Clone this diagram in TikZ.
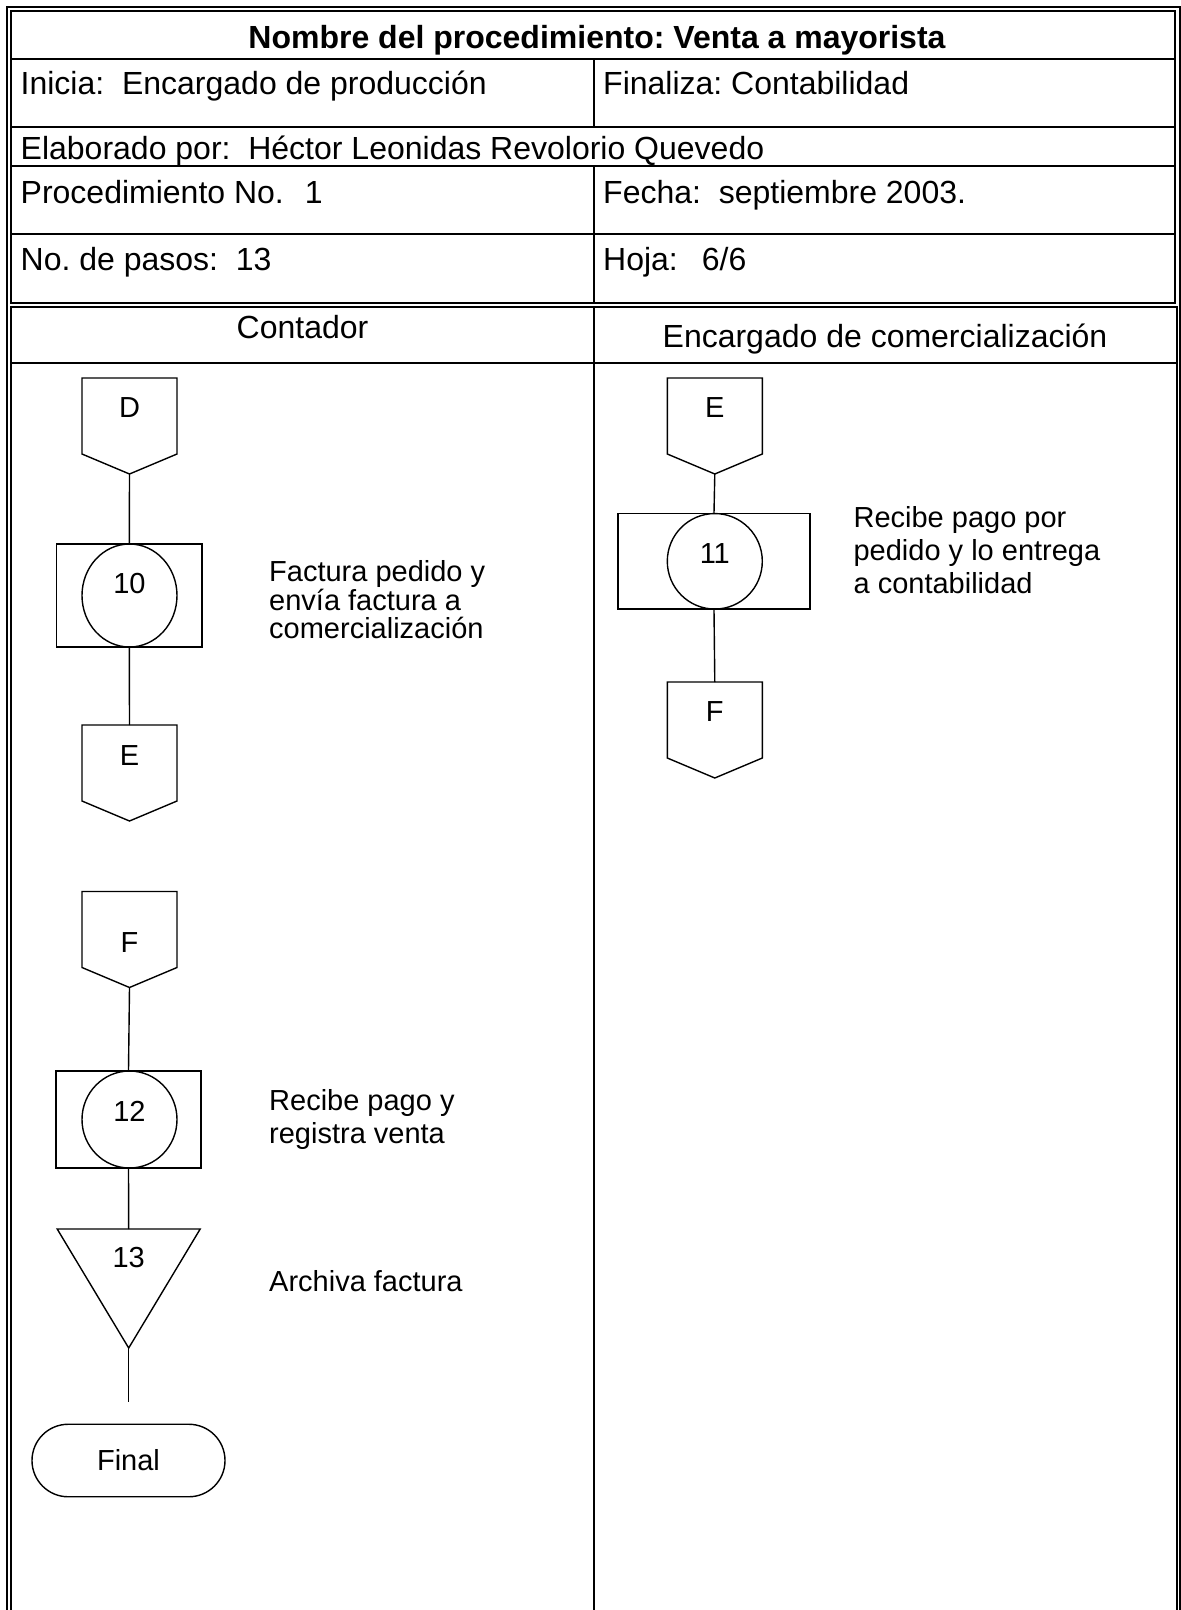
\documentclass[tikz,border=0pt]{standalone}
\usepackage{fontspec}
\setmainfont{Liberation Sans}
\usetikzlibrary{shapes.geometric}
% text block whose baseline is that of its first line
\newcommand\desctext[2]{\parbox[t]{330pt}{\fontsize{29}{#1}\selectfont #2}}
\begin{document}
\begin{tikzpicture}[x=1pt,y=-1pt,
  rule/.style={line width=2pt},
  flow/.style={line width=1.4pt},
  celltext/.style={anchor=base west,inner sep=0pt,font=\fontsize{32}{38}\selectfont},
  headtext/.style={anchor=base,inner sep=0pt,font=\fontsize{32}{38}\selectfont},
  desc/.style={anchor=base west,inner sep=0pt},
  tag/.style={anchor=base,inner sep=0pt,font=\fontsize{29}{33}\selectfont},
  opbox/.style={draw,flow,rectangle,inner sep=0pt},
  opcircle/.style={draw,flow,ellipse,inner sep=0pt,minimum width=95pt,minimum height=#1},
  terminal/.style={draw,flow,rectangle,inner sep=0pt,minimum width=193pt,
    minimum height=72.5pt,rounded corners=36.2pt,font=\fontsize{29}{33}\selectfont},
  offpage/.pic={
    \draw[flow] (-47.5,0) -- (47.5,0) -- (47.5,76) -- (0,96) -- (-47.5,76) -- cycle;
    \coordinate (-top) at (0,0);
    \coordinate (-tip) at (0,96);
  },
  archive/.pic={
    \draw[flow] (-71.5,0) -- (71.5,0) -- (0,119) -- cycle;
    \coordinate (-top) at (0,0);
    \coordinate (-tip) at (0,119);
  }
]
\useasboundingbox (0,0) rectangle (1181,1610);

% ---------- outer frame ----------
\draw[rule] (6.5,1620) -- (6.5,6.5) -- (1179.5,6.5) -- (1179.5,1620);

% ---------- header table ----------
\draw[rule] (11,11) rectangle (1175,303);
\draw[rule] (11,58.5) -- (1175,58.5);
\draw[rule] (11,127) -- (1175,127);
\draw[rule] (11,166) -- (1175,166);
\draw[rule] (11,234) -- (1175,234);
\draw[rule] (594,58.5) -- (594,127);
\draw[rule] (594,166) -- (594,303);

\node[headtext,font=\fontsize{32}{38}\selectfont\bfseries] (title) at (597,48)
  {Nombre del procedimiento:\ Venta a mayorista};
\node[celltext] (inicia) at (20.5,94) {Inicia:\ \ Encargado de producción};
\node[celltext] (finaliza) at (603,94) {Finaliza:\ Contabilidad};
\node[celltext] (elab) at (20.5,159) {Elaborado por:\ \ Héctor Leonidas Revolorio Quevedo};
\node[celltext] (proc) at (20.5,203) {Procedimiento No.\hspace{21pt}1};
\node[celltext] (fecha) at (603,203) {Fecha:\ \ septiembre 2003.};
\node[celltext] (pasos) at (20.5,270) {No.\ de pasos:\ \ 13};
\node[celltext] (hoja) at (603,270) {Hoja:\hspace{24pt}6/6};

% ---------- swim lanes ----------
\draw[rule] (11,1620) -- (11,307) -- (1176.5,307) -- (1176.5,1620);
\draw[rule] (11,362.5) -- (1176.5,362.5);
\draw[rule] (594,307) -- (594,1620);

\node[headtext] (lane1) at (302.5,338) {Contador};
\node[headtext] (lane2) at (885,347) {Encargado de comercialización};

% ---------- lane 1: Contador ----------
\pic (D) at (129.5,378) {offpage};
\node[tag] (Dl) at (129.5,417) {D};

\node[opbox,minimum width=145.5pt,minimum height=103pt] (b10) at (129.3,595.5) {};
\node[opcircle=103pt] (c10) at (129.5,595.5) {};
\node[tag] (n10) at (129.5,593.5) {10};
\node[desc] (d10) at (269,581.5)
  {\desctext{28.5}{Factura pedido y\\envía factura a\\comercialización}};

\pic (E1) at (129.5,725) {offpage};
\node[tag] (E1l) at (129.5,765) {E};

\pic (F1) at (129.5,891.5) {offpage};
\node[tag] (F1l) at (129.5,952) {F};

\node[opbox,minimum width=145pt,minimum height=97pt] (b12) at (128.5,1119.5) {};
\node[opcircle=97pt] (c12) at (129.5,1119.5) {};
\node[tag] (n12) at (129.5,1121.5) {12};
\node[desc] (d12) at (269,1110)
  {\desctext{33.2}{Recibe pago y\\registra venta}};

\pic (T13) at (128.7,1229) {archive};
\node[tag] (n13) at (128.7,1267) {13};
\node[desc] (d13) at (269,1291) {\desctext{33.2}{Archiva factura}};

\coordinate (open) at (128.7,1402);
\node[terminal] (fin) at (128.5,1460.5) {Final};

\draw[flow] (D-tip) -- (b10.north);
\draw[flow] (b10.south) -- (E1-top);
\draw[flow] (F1-tip) -- (b12.north);
\draw[flow] (b12.south) -- (T13-top);
\draw[flow] (T13-tip) -- (open);

% ---------- lane 2: Encargado de comercializacion ----------
\pic (E2) at (714.8,378) {offpage};
\node[tag] (E2l) at (714.8,417) {E};

\node[opbox,minimum width=192pt,minimum height=95.5pt] (b11) at (714,561.3) {};
\node[opcircle=95.5pt] (c11) at (714.8,561.3) {};
\node[tag] (n11) at (714.8,563) {11};
\node[desc] (d11) at (853.4,527)
  {\desctext{33.4}{Recibe pago por\\pedido y lo entrega\\a contabilidad}};

\pic (F2) at (714.8,682) {offpage};
\node[tag] (F2l) at (714.8,721) {F};

\draw[flow] (E2-tip) -- (b11.north);
\draw[flow] (b11.south) -- (F2-top);
\end{tikzpicture}
\end{document}
